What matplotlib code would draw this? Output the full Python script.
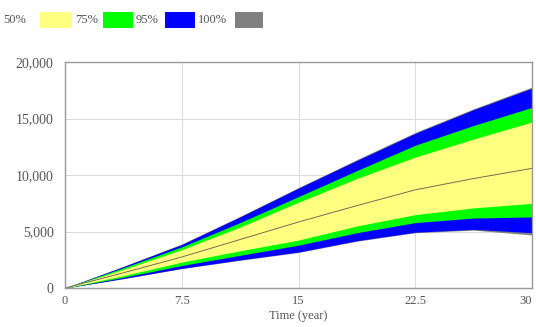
import matplotlib.pyplot as plt
from matplotlib.patches import Rectangle
from matplotlib.ticker import FuncFormatter

plt.rcParams['font.family'] = ['Liberation Serif', 'DejaVu Serif']

t = [0, 3.75, 7.5, 11.25, 15, 18.75, 22.5, 26.25, 30]
median = [0, 1350, 2750, 4300, 5850, 7300, 8700, 9700, 10600]
p50_hi = [0, 1650, 3400, 5400, 7600, 9700, 11600, 13200, 14700]
p50_lo = [0, 1100, 2300, 3300, 4250, 5500, 6500, 7100, 7500]
p75_hi = [0, 1800, 3650, 5800, 8100, 10400, 12650, 14400, 16000]
p75_lo = [0, 950, 2000, 2900, 3800, 4900, 5800, 6200, 6300]
p95_hi = [0, 1900, 3850, 6300, 8850, 11300, 13700, 15800, 17700]
p95_lo = [0, 850, 1750, 2500, 3200, 4200, 4950, 5200, 4900]
p100_hi = [0, 1920, 3900, 6350, 8900, 11380, 13780, 15880, 17800]
p100_lo = [0, 830, 1720, 2460, 3150, 4150, 4900, 5130, 4700]

legend_labels = ['50%', '75%', '95%', '100%']
band_colors = ['#ffff80', '#00ff00', '#0000ff', '#808080']

W, H = 536, 327
fig = plt.figure(figsize=(W / 100, H / 100), dpi=100)
ax = fig.add_axes([0.121, 0.119, 0.872, 0.691])

ax.fill_between(t, p100_lo, p100_hi, color=band_colors[3], lw=0)
ax.fill_between(t, p95_lo, p95_hi, color=band_colors[2], lw=0)
ax.fill_between(t, p75_lo, p75_hi, color=band_colors[1], lw=0)
ax.fill_between(t, p50_lo, p50_hi, color=band_colors[0], lw=0)
ax.plot(t, median, color='#7a6a50', lw=0.7)

ax.set_xlim(0, 30)
ax.set_ylim(0, 20000)
ax.set_xticks([0, 7.5, 15, 22.5, 30])
ax.set_xticklabels(['0', '7.5', '15', '22.5', '30'])
ax.set_yticks([0, 5000, 10000, 15000, 20000])
ax.yaxis.set_major_formatter(FuncFormatter(lambda v, p: f'{int(v):,}'))
ax.grid(True, color='#dcdcdc', lw=0.8)
ax.set_axisbelow(True)
ax.tick_params(length=0, colors='#555555')
ax.tick_params(axis='y', labelsize=10, pad=8)
ax.tick_params(axis='x', labelsize=9, pad=5)
ax.get_xticklabels()[-1].set_horizontalalignment('right')
for s in ax.spines.values():
    s.set_color('#999999')
    s.set_linewidth(1.0)
ax.set_xlabel('Time (year)', fontsize=9, color='#555555', labelpad=2)

# legend row at top (pixel positions from the picture)
text_x = [3, 75, 136, 198]
box_x = [40, 103, 165, 235]
box_w = [32, 30, 30, 28]
for lab, col, tx, bx, bw in zip(legend_labels, band_colors, text_x, box_x, box_w):
    fig.text(tx / W, 1 - 20 / H, lab, fontsize=9, color='#555555', va='center')
    fig.patches.append(Rectangle((bx / W, 1 - 28 / H), bw / W, 16 / H,
                                 transform=fig.transFigure,
                                 facecolor=col, edgecolor='none'))

fig.savefig('out.png', dpi=100)
